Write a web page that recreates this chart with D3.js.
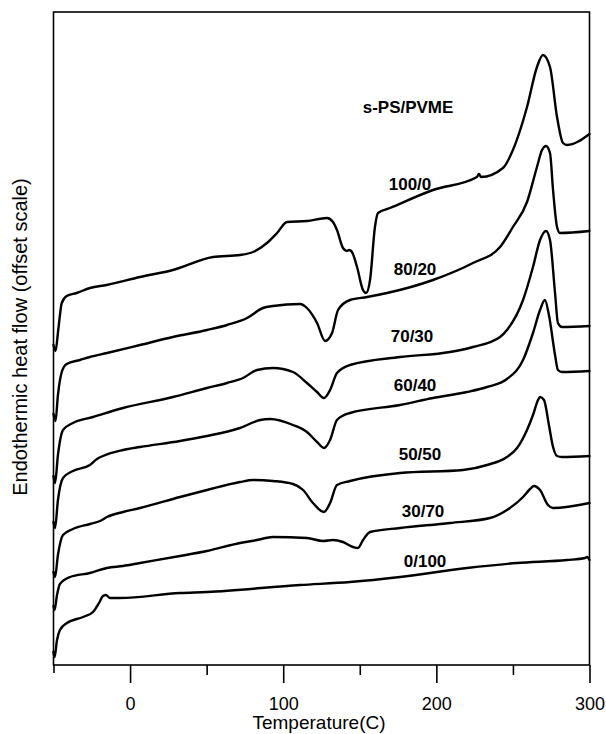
<!DOCTYPE html>
<html>
<head>
<meta charset="utf-8">
<script src="https://cdn.jsdelivr.net/npm/d3@7"></script>
<style>
  body { margin: 0; background: #fff; }
  text { font-family: "Liberation Sans", Arial, Helvetica, sans-serif; fill: #000; }
</style>
</head>
<body>
<svg id="chart" width="606" height="734"></svg>
<script>
// DSC heating traces of s-PS/PVME blends: [temperature (°C), heat flow (offset units)]
const blend100_0 = [[-50,320],[-48.7,314],[-46.9,335],[-44.6,362],[-41.4,369],[-34.9,372],[-26.2,377],[-15.3,380],
  [6.5,388],[28,395],[54.2,408],[71.8,410],[80.3,413],[89.4,422],[96,432],[102.5,443],[115.5,444],[128.6,447],
  [132.5,443],[135.1,435],[139,417],[141.5,414],[143,415],[144.9,413],[148.2,398],[152.1,375],[154.1,372],
  [156.7,385],[159.9,438],[161.9,452],[169.7,457],[197.8,475],[226.5,488],[227.8,491],[229.2,488],[243.5,497],
  [250,515],[259.2,558],[265.7,598],[269.6,610],[274.2,598],[278.8,548],[282.7,522],[285.3,520],[300,531]];

const blend80_20 = [[-50,251],[-48.7,244],[-47.1,270],[-44.6,293],[-41.4,301],[-32.7,305],[-26.2,308],[-15.1,312],
  [6.5,320],[28,328],[50.2,335],[63.3,340],[76.4,347],[86.8,357],[93.3,359],[111,361],[115.5,357],[122.1,342],
  [127.3,324],[131.9,332],[135.8,355],[143.6,365],[154.7,368],[167.8,372],[197.8,385],[223.9,402],[241.6,418],
  [250,438],[259.2,463],[265.7,498],[269,515],[271.6,519],[274.2,512],[276.2,475],[278.8,438],[280.7,432],[300,434]];

const blend70_30 = [[-50,189],[-49,182],[-47.1,210],[-43.8,235],[-37.3,242],[-24.2,248],[-4.6,257],[28,268],
  [50.2,277],[63.3,282],[73.7,287],[82.9,295],[93.3,297],[106.4,293],[115.5,282],[122.1,273],[126.6,267],
  [130.6,275],[135.1,292],[143.6,300],[176.3,308],[208.9,313],[223.9,318],[241.6,328],[246.1,335],[256.6,365],
  [263.1,398],[267.7,425],[271.6,434],[274.2,425],[277.5,372],[279.4,342],[282,338],[300,339]];

const blend60_40 = [[-50,143],[-49,137],[-47.1,165],[-43.8,187],[-37.3,194],[-26.2,200],[-21.6,206],[-17.7,209],
  [-4.6,215],[6.5,218],[32.6,224],[50.2,229],[71.8,237],[84.9,245],[91.4,246],[106.4,240],[115.5,233],[122.1,223],
  [126.6,217],[130.6,225],[135.1,245],[143.6,252],[176.3,260],[197.8,267],[220,273],[233.1,278],[246.1,286],
  [256.6,305],[263.1,332],[267.7,355],[270.9,365],[273.5,350],[277.5,310],[279.4,295],[282,293],[300,294]];

const blend50_50 = [[-50,93],[-49,88],[-47.1,110],[-43.8,130],[-37.3,136],[-26.2,141],[-19.6,144],[-15.1,148],
  [-4.6,153],[6.5,157],[32.6,168],[50.2,175],[71.8,183],[80.3,185],[93.3,184],[106.4,181],[113,175],[119.4,162],
  [126.6,153],[130.6,162],[135.1,180],[143.6,184],[176.3,192],[217.4,195],[233.1,200],[246.1,208],[252.7,217],
  [259.2,235],[263.1,250],[266.4,265],[267.7,268],[270.3,265],[273.5,240],[276.2,218],[278.8,209],[282,208],[300,209]];

const blend30_70 = [[-50,59],[-49.3,55],[-47.7,70],[-45.8,81],[-39.2,88],[-26.2,92],[-15.1,97],[-4.6,99],
  [6.5,102],[32.6,109],[50.2,114],[71.8,122],[82.9,125],[93.3,128],[115.5,127],[126,124],[132.5,125],[139,123],
  [145.6,118],[148.8,117],[152.1,125],[156.7,133],[176.3,137],[208.9,142],[235,147],[246.1,155],[256.6,168],
  [261.2,176],[263.7,179],[267.7,175],[272.9,160],[276.2,157],[300,162]];

const blend0_100 = [[-50,13],[-49.3,8],[-47.7,25],[-45.8,35],[-41.2,42],[-30.7,48],[-24.2,53],[-20.3,62],
  [-17.7,69],[-15.8,70],[-13.1,67],[-6.6,67],[32.6,72],[50.2,73],[111,80],[143.6,83],[176.3,88],[220,97],
  [252.7,102],[285.3,105],[297.1,107],[298.4,108],[300,105]];

const compositions = ["100/0", "80/20", "70/30", "60/40", "50/50", "30/70", "0/100"];
const traces = [blend100_0, blend80_20, blend70_30, blend60_40, blend50_50, blend30_70, blend0_100];

// label anchors in data space: [temperature, heat flow]
const labelAnchors = [[182.8,480.5],[186.1,396],[184.1,329],[186.1,279.5],[189.3,211],[191.3,154],[192.6,104]];
const titleText = "s-PS/PVME";
const titleAnchor = [181.5, 557.5];

const majorTicks = [0, 100, 200, 300];
const minorTicks = [50, 150, 250];
const xDomain = [-50, 300];
const yDomain = [0, 653];

const svg = d3.select("#chart");
const plotLeft = 53.5, plotRight = 589.5, plotTop = 12, plotBottom = 665;

const x = d3.scaleLinear().domain(xDomain).range([plotLeft, plotRight]);
const y = d3.scaleLinear().domain(yDomain).range([plotBottom, plotTop]);

// plot frame
svg.append("rect")
  .attr("x", plotLeft).attr("y", plotTop)
  .attr("width", plotRight - plotLeft).attr("height", plotBottom - plotTop)
  .attr("fill", "none").attr("stroke", "#000").attr("stroke-width", 1.6);

// bottom axis: labelled major ticks, short minor ticks
const axisMajor = d3.axisBottom(x).tickValues(majorTicks).tickSize(18).tickPadding(14).tickFormat(d3.format("d"));
const gMaj = svg.append("g").attr("transform", `translate(0,${plotBottom})`).call(axisMajor);
gMaj.select(".domain").remove();
gMaj.selectAll("line").attr("stroke", "#000").attr("stroke-width", 1.6);
gMaj.selectAll("text").style("font-size", "18px").style("font-family", '"Liberation Sans", Arial, sans-serif');

const axisMinor = d3.axisBottom(x).tickValues(minorTicks).tickSize(10).tickFormat("");
const gMin = svg.append("g").attr("transform", `translate(0,${plotBottom})`).call(axisMinor);
gMin.select(".domain").remove();
gMin.selectAll("line").attr("stroke", "#000").attr("stroke-width", 1.6);

const axisEdge = d3.axisBottom(x).tickValues([xDomain[0]]).tickSize(8).tickFormat("");
const gEdge = svg.append("g").attr("transform", `translate(0,${plotBottom})`).call(axisEdge);
gEdge.select(".domain").remove();
gEdge.selectAll("line").attr("stroke", "#000").attr("stroke-width", 1.6);

// axis titles
svg.append("text")
  .attr("x", 319).attr("y", 729)
  .attr("text-anchor", "middle")
  .style("font-size", "19px")
  .text("Temperature(C)");

svg.append("text")
  .attr("transform", "translate(27,337) rotate(-90)")
  .attr("text-anchor", "middle")
  .style("font-size", "20px")
  .text("Endothermic heat flow (offset scale)");

// traces
const line = d3.line()
  .x(d => x(d[0]))
  .y(d => y(d[1]))
  .curve(d3.curveMonotoneX);

svg.append("g")
  .selectAll("path")
  .data(traces)
  .join("path")
  .attr("d", line)
  .attr("fill", "none")
  .attr("stroke", "#000")
  .attr("stroke-width", 2.4)
  .attr("stroke-linejoin", "round")
  .attr("stroke-linecap", "round");

// composition labels
svg.append("g")
  .selectAll("text")
  .data(compositions)
  .join("text")
  .attr("x", (d, i) => x(labelAnchors[i][0]))
  .attr("y", (d, i) => y(labelAnchors[i][1]))
  .attr("dy", "0.35em")
  .attr("text-anchor", "middle")
  .style("font-size", "17px")
  .style("font-weight", "bold")
  .text(d => d);

svg.append("text")
  .attr("x", x(titleAnchor[0]))
  .attr("y", y(titleAnchor[1]))
  .attr("dy", "0.35em")
  .attr("text-anchor", "middle")
  .style("font-size", "17px")
  .style("font-weight", "bold")
  .text(titleText);
</script>
</body>
</html>
